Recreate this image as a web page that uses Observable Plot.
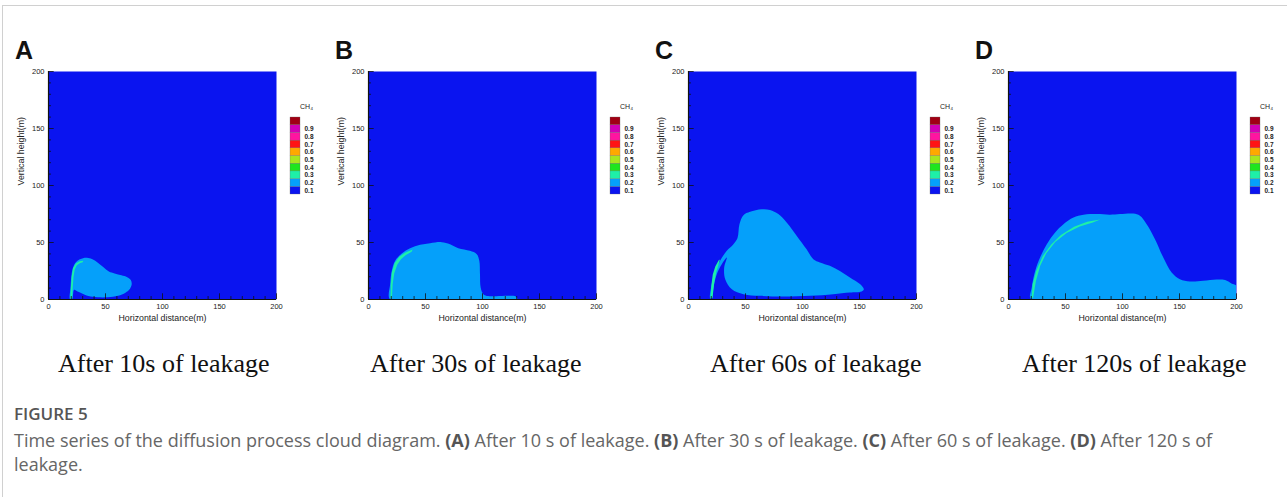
<!DOCTYPE html>
<html><head><meta charset="utf-8">
<script src="https://cdn.jsdelivr.net/npm/d3@7"></script>
<script src="https://cdn.jsdelivr.net/npm/@observablehq/plot@0.6"></script>
<style>
body{margin:0;background:#fff;width:1287px;height:497px;overflow:hidden;position:relative;font-family:"Liberation Sans",Arial,sans-serif;}
#frame{position:absolute;left:2px;top:5px;width:1300px;height:500px;border-top:1px solid #d0d0d0;border-left:1px solid #d0d0d0;}
.letter{position:absolute;font:bold 25px/1 "Liberation Sans",Arial,sans-serif;color:#111;top:38px;}
.cap{position:absolute;top:351px;font:26px/1 "Liberation Serif","Times New Roman",serif;white-space:nowrap;color:#111;}
.fig{position:absolute;left:14px;top:405px;font:600 17px/1 "Open Sans",sans-serif;color:#555;}
.desc{position:absolute;left:14px;top:428px;font:18px/24px "Open Sans",sans-serif;color:#666;white-space:nowrap;}
.desc b{font-weight:700;color:#555;}
</style></head>
<body>
<div id="frame"></div>
<div id="root"></div>
<div class="fig">FIGURE 5</div>
<div class="desc">Time series of the diffusion process cloud diagram. <b>(A)</b> After 10 s of leakage. <b>(B)</b> After 30 s of leakage. <b>(C)</b> After 60 s of leakage. <b>(D)</b> After 120 s of<br>leakage.</div>
<script>
// ---- data ----
const panelLetters = ["A", "B", "C", "D"];
const captions = ["After 10s of leakage", "After 30s of leakage", "After 60s of leakage", "After 120s of leakage"];
const captionLeft = [58, 370, 710, 1022];
const majorTicks = [0, 50, 100, 150, 200];
const minorTicks = [10, 20, 30, 40, 60, 70, 80, 90, 110, 120, 130, 140, 160, 170, 180, 190];

// CH4 = 0.2 contour (light blue) outlines, [x m, y m]
const plumeA = [[18.8,0.5],[19.3,10],[20,20],[21.2,27],[23.5,32],[27,35],[31,36.5],[35,36.3],[39,35],[43,32.5],[48,28.5],[53,24.5],[58,22.8],[64,21.2],[69,19.5],[72.2,17],[73,13.5],[71.5,9.5],[67.5,6],[61,3.2],[52,2],[43,2],[35,3],[29,5.5],[25.5,7],[22.5,8.5],[21.4,3],[20.8,0.5]];
const plumeB = [[18.8,0.3],[19,13.5],[20.4,25],[23.4,34],[29.2,40.4],[36.5,45],[45.3,48],[54,49.4],[64.2,50.3],[71.5,48.5],[78.8,45],[89,42.7],[95,39.8],[97.2,34],[97.8,22.2],[98.4,10.5],[100.7,4.7],[105,3],[112,2.9],[124,3.2],[129.3,2.6],[130.5,0.5],[120,0.3],[80,0.3],[40,0.3]];
const plumeC = [[19,0.9],[20.4,13.5],[23.4,25],[27.7,34],[33.6,42.7],[39.4,48.5],[43,54],[44.7,66],[48.2,74],[54,77],[64.2,79.2],[71.5,78.6],[78.8,74.9],[86.1,67.5],[95,55.8],[103.6,44],[109.5,35.4],[115.3,32.5],[124,29.5],[132.8,25],[141.6,19.3],[150.4,13.5],[153.8,9],[151.8,7],[141.6,6.1],[127,4.7],[106.7,3.2],[83.2,2.6],[62.8,3.2],[48.2,4.7],[38,9],[32.2,17.8],[31.3,28],[33.6,36.8],[29.2,31],[24.8,22.2],[21.9,10.5],[20.4,0.9]];
const plumeD = [[19.6,0.3],[20.4,10.5],[23.4,25],[27.7,36.8],[33.6,48.5],[40.9,58.8],[48.2,66],[57,71.9],[65.8,74.3],[77.4,74.9],[89,74.3],[97.8,74.9],[109.5,75.4],[115.3,73.4],[121.2,66],[128.5,52.9],[135.8,36.8],[143.1,23.7],[150.4,17.8],[159.2,15.8],[170.8,16.4],[182.5,17.5],[190,17],[195.6,14],[200,12],[201,6],[201,0.3],[160,0.3],[110,0.3],[60,0.3]];

// CH4 = 0.3 streak near the leak source
const streakA = [[19.2,0.8],[19.6,10],[20.3,20],[21.5,27.5],[24,31.5],[27.5,33.5],[30.5,34],[30,32.7],[27.3,31.9],[24.8,30],[23,26.3],[21.9,19.5],[21.2,10],[20.7,0.8]];
const streakB = [[19.3,1],[19.6,13.5],[20.5,24],[23,32],[27,37.5],[32,41],[38.8,43.8],[37.8,41.8],[32.5,38.8],[28.5,35.2],[25.2,30.5],[22.6,23],[21.2,13.5],[20.6,1]];
const streakC = [[19.3,1],[20,12],[21.3,22],[23.5,29],[26.5,34.5],[27.5,35],[26.2,30],[24.3,24],[22.6,15],[21,1]];
const streakD = [[20.3,1.5],[21.2,13.5],[24.3,25],[30,38],[37.3,48],[46,56.5],[57.5,63.8],[69,68.3],[80.4,70.2],[74,67.5],[62.5,64],[51,58.3],[41,50.5],[33,40.3],[27.8,29.5],[24,16],[21.6,1.5]];

const plumes = [plumeA, plumeB, plumeC, plumeD];
const streaks = [streakA, streakB, streakC, streakD];

// legend
const legendLevels = [0.1, 0.2, 0.3, 0.4, 0.5, 0.6, 0.7, 0.8, 0.9, 1.0];
const legendColors = ["#0a14f0", "#05a0fa", "#1ef0a8", "#1ee61e", "#a8e61e", "#ffa800", "#ff1414", "#ff14a0", "#d200b4", "#a00014"];
const legendLabels = ["0.1", "0.2", "0.3", "0.4", "0.5", "0.6", "0.7", "0.8", "0.9"];

const bgColor = legendColors[0];
const plumeColor = legendColors[1];
const streakColor = legendColors[2];

const root = document.getElementById("root");

panelLetters.forEach((letter, i) => {
  const off = i * 320;
  const fig = Plot.plot({
    width: 320, height: 270,
    marginLeft: 48, marginRight: 44, marginTop: 11, marginBottom: 31,
    x: {domain: [0, 200], label: null},
    y: {domain: [0, 200], label: null},
    style: {fontFamily: "Liberation Sans, Arial, sans-serif", fontSize: "7.5px", color: "#222", background: "transparent", overflow: "visible"},
    marks: [
      Plot.frame({fill: bgColor, stroke: null}),
      Plot.line(plumes[i], {x: d => d[0], y: d => d[1], fill: plumeColor, stroke: "none", curve: "catmull-rom-closed", clip: true}),
      Plot.line(streaks[i], {x: d => d[0], y: d => d[1], fill: streakColor, stroke: "none", curve: "linear-closed", clip: true}),
      Plot.ruleX(minorTicks, {x: d => d, y1: 0, y2: 2.6, stroke: "#111", strokeWidth: 0.8}),
      Plot.ruleX(majorTicks, {x: d => d, y1: 0, y2: 5, stroke: "#111", strokeWidth: 0.8}),
      Plot.ruleY(minorTicks, {y: d => d, x1: 0, x2: 2.6, stroke: "#111", strokeWidth: 0.8}),
      Plot.ruleY(majorTicks, {y: d => d, x1: 0, x2: 5, stroke: "#111", strokeWidth: 0.8}),
      Plot.ruleX([0], {stroke: "#111", strokeWidth: 1.2}),
      Plot.ruleY([0], {stroke: "#111", strokeWidth: 1.2}),
      Plot.axisX({ticks: majorTicks, tickSize: 0, tickPadding: 4, label: null}),
      Plot.axisY({ticks: majorTicks, tickSize: 0, tickPadding: 4, label: null}),
      Plot.text(["Horizontal distance(m)"], {frameAnchor: "bottom", dy: 21, fontSize: 8.8}),
      Plot.text(["Vertical height(m)"], {frameAnchor: "left", dx: -27, rotate: -90, fontSize: 8.8})
    ]
  });
  fig.style.position = "absolute";
  fig.style.left = off + "px";
  fig.style.top = "60px";
  root.appendChild(fig);

  const leg = Plot.plot({
    width: 40, height: 100,
    x: {domain: [0, 1], range: [2, 12], axis: null},
    y: {domain: [0, 1], range: [94, 17], axis: null},
    color: {type: "identity"},
    style: {fontFamily: "Liberation Sans, Arial, sans-serif", background: "transparent", overflow: "visible"},
    marks: [
      Plot.rect(legendLevels, {x1: 0, x2: 1, y1: d => d - 0.1, y2: d => d, fill: (d, j) => legendColors[j], stroke: "#666", strokeWidth: 0.3}),
      Plot.text(legendLabels, {x: 1, y: d => +d - 0.05, dx: 4, textAnchor: "start", fontWeight: "bold", fontSize: 6.5, fill: "#222"}),
      Plot.text(["CH₄"], {x: 1, y: 1, dx: 6, dy: -11, fontSize: 7, fill: "#222"})
    ]
  });
  leg.style.position = "absolute";
  leg.style.left = (288 + off) + "px";
  leg.style.top = "100px";
  root.appendChild(leg);

  const lt = document.createElement("div");
  lt.className = "letter";
  lt.style.left = (15 + off) + "px";
  lt.textContent = letter;
  root.appendChild(lt);

  const cp = document.createElement("div");
  cp.className = "cap";
  cp.style.left = captionLeft[i] + "px";
  cp.textContent = captions[i];
  root.appendChild(cp);
});
</script>
</body></html>
